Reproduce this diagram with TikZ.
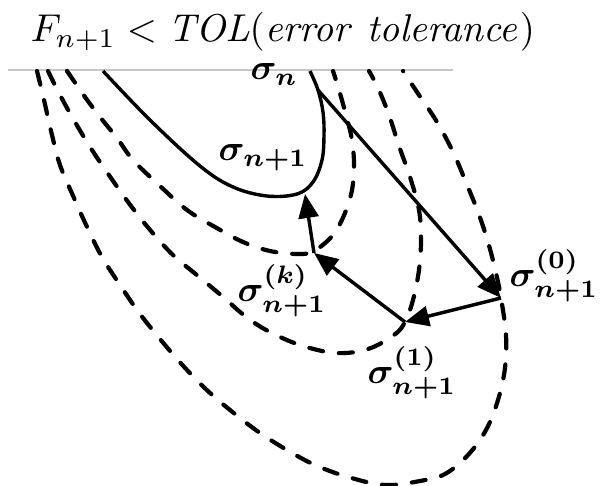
\documentclass[tikz,border=0pt]{standalone}
\usepackage{amsmath}
\usepackage{bm}
\usetikzlibrary{arrows.meta}
\begin{document}
\begin{tikzpicture}[x=1pt,y=-1pt,
  contour/.style={line width=4.2pt, dash pattern=on 14pt off 16pt, line cap=round},
  solidc/.style={line width=3.4pt},
  arr/.style={line width=3.4pt, -{Triangle[length=24pt,width=20pt]}},
  lab/.style={inner sep=0pt, anchor=base west, scale=3.6},
  rule/.style={draw=black!22, line width=1.5pt}
]
\useasboundingbox (0,0) rectangle (600,486);
% title and rule
\node[inner sep=0pt, anchor=base west, scale=3.88] (title) at (30,42)
  {$F_{n+1} < \mathit{TOL}(\mathit{error\ tolerance})$};
\coordinate (rl) at (8,70);
\coordinate (rr) at (453,70);
\draw[rule] (rl) -- (rr);
% dashed contours
\draw[contour] plot[smooth, tension=0.6] coordinates {
  (37,71) (44,100) (52,135) (60,165) (74,198) (88,229) (102,257) (120,285)
  (140,314) (165,345) (187,370) (210,393) (235,414) (260,433) (287,450)
  (315,465) (348,477) (385,485) (420,481) (445,474) (468,455) (486,430)
  (498,400) (505,368) (506,335) (501,298) (496,273) (488,242) (478,212)
  (465,180) (453,152) (437,122) (419,95) (403,71)};
\draw[contour] plot[smooth, tension=0.6] coordinates {
  (48,71) (60,95) (75,122) (92,150) (111,178) (131,206) (151,231) (173,255)
  (198,276) (222,296) (245,316) (268,331) (300,345) (336,353) (368,349)
  (394,335) (405,322) (413,300) (419,270) (421,240) (419,210) (410,177)
  (399,146) (389,115) (378,88) (369,71)};
\draw[contour] plot[smooth, tension=0.6] coordinates {
  (67,71) (85,97) (100,117) (117,138) (133,160) (160,186) (187,210)
  (215,227) (243,242) (270,251) (298,254) (314,251) (333,235) (345,213)
  (352,190) (354,165) (352,140) (346,115) (339,90) (333,71)};
% solid contour
\draw[solidc] plot[smooth, tension=0.6] coordinates {
  (310,71) (318,90) (323,112) (324,135) (322,160) (313,182) (297,194)
  (267,196) (233,187) (200,166) (150,120) (103,71)};
% iteration points
\coordinate (S) at (318,90);
\coordinate (P0) at (501,298);
\coordinate (P1) at (405,322);
\coordinate (Pk) at (314,253);
\coordinate (T) at (305,194);
\draw[arr] (S) -- (P0);
\draw[arr] (P0) -- (P1);
\draw[arr] (P1) -- (Pk);
\draw[arr] (Pk) -- (T);
% labels
\node[lab] (sn) at (250,80) {$\bm{\sigma_n}$};
\node[lab] (sn1) at (218,161) {$\bm{\sigma_{n+1}}$};
\node[lab] (sk) at (237,302) {$\bm{\sigma_{n+1}^{(k)}}$};
\node[lab] (s0) at (509,287) {$\bm{\sigma_{n+1}^{(0)}}$};
\node[lab] (s1) at (367,384) {$\bm{\sigma_{n+1}^{(1)}}$};
\end{tikzpicture}
\end{document}
